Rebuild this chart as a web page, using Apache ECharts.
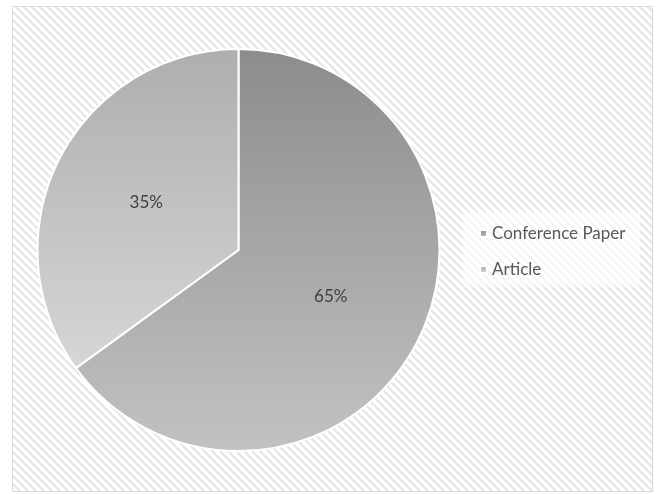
<!DOCTYPE html>
<html><head><meta charset="utf-8">
<script src="https://cdn.jsdelivr.net/npm/echarts@6/dist/echarts.min.js"></script>
<style>html,body{margin:0;padding:0;background:#fff}#c{width:661px;height:494px}</style>
</head><body><div id="c"></div>
<script>
const categories = ['Conference Paper', 'Article'];
const values = [65, 35];
const labels = ['65%', '35%'];

function makeTile() {
  const cv = document.createElement('canvas');
  cv.width = 8; cv.height = 8;
  const ctx = cv.getContext('2d');
  ctx.fillStyle = '#ffffff'; ctx.fillRect(0, 0, 8, 8);
  ctx.fillStyle = '#e6e6e6';
  for (let y = 0; y < 8; y++) for (let x = 0; x < 8; x++) {
    if ((((x - y) % 8) + 8) % 8 < 3) ctx.fillRect(x, y, 1, 1);
  }
  return cv;
}
const tile = makeTile();

const grads = [
  {type: 'linear', x: 0, y: 0, x2: 0, y2: 1, colorStops: [{offset: 0, color: '#8c8c8c'}, {offset: 1, color: '#c2c2c2'}]},
  {type: 'linear', x: 0, y: 0, x2: 0, y2: 1, colorStops: [{offset: 0, color: '#aeaeae'}, {offset: 1, color: '#d6d6d6'}]}
];

const chart = echarts.init(document.getElementById('c'), null, {renderer: 'canvas'});
chart.setOption({
  animation: false,
  backgroundColor: '#ffffff',
  graphic: [
    {type: 'rect', z: -10, silent: true, shape: {x: 12.5, y: 6.5, width: 640, height: 485},
     style: {fill: {image: tile, repeat: 'repeat'}, stroke: '#d9d9d9', lineWidth: 1}},
    {type: 'rect', z: -5, silent: true, shape: {x: 463, y: 212, width: 177, height: 75},
     style: {fill: 'rgba(255,255,255,0.55)'}}
  ],
  legend: {
    orient: 'vertical', left: 474, top: 220,
    itemWidth: 7, itemHeight: 7, itemGap: 19,
    icon: 'rect',
    data: categories,
    textStyle: {fontFamily: 'Lato', fontSize: 17, color: '#595959', padding: [0, 0, 0, 0]}
  },
  series: [{
    type: 'pie',
    center: [238.5, 250],
    radius: [0, 201],
    startAngle: 90,
    clockwise: true,
    label: {show: true, position: 'inside', fontFamily: 'Lato', fontSize: 17, color: '#404040',
      formatter: p => labels[p.dataIndex]},
    labelLine: {show: false},
    itemStyle: {borderColor: '#ffffff', borderWidth: 2},
    data: categories.map((c, i) => ({name: c, value: values[i], itemStyle: {color: grads[i]}}))
  }]
});
</script></body></html>
